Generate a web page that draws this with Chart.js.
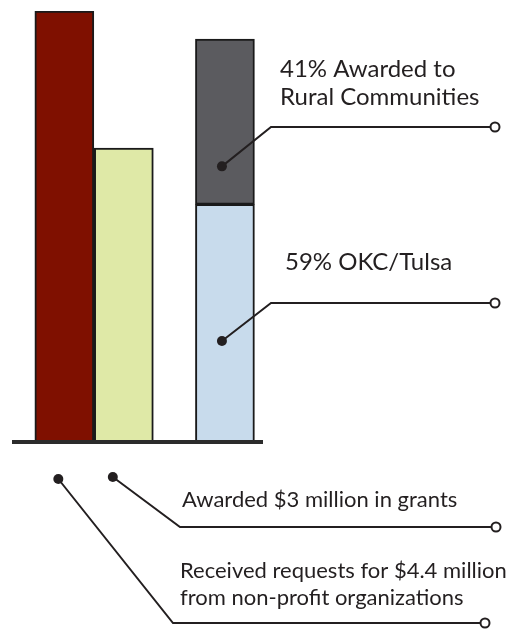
<!DOCTYPE html>
<html><head><meta charset="utf-8">
<script src="https://cdn.jsdelivr.net/npm/chart.js@4"></script>
<style>html,body{margin:0;padding:0;background:#fff}#wrap{width:521px;height:631px}</style>
</head><body><div id="wrap"><canvas id="c" width="521" height="631"></canvas></div>
<script>
// ---- data ----
const categories = ['Requests received', 'Grants awarded', 'Award split'];
const categoryPositions = [1, 2, 3.7];
const amountsMillions = [4.4, 3.0];          // $ million
const splitSeries = ['OKC/Tulsa', 'Rural Communities'];
const splitPercent = [59, 41];               // % of awarded
const labelRequests = ['Received requests for $4.4 million', 'from non-profit organizations'];
const labelAwarded = ['Awarded $3 million in grants'];
const labelOkc = ['59% OKC/Tulsa'];
const labelRural = ['41% Awarded to', 'Rural Communities'];

const INK = '#231f20';
const BORDER = '#1a1a1a';

const annotate = {
  id: 'annotate',
  afterDatasetsDraw(chart) {
    const ctx = chart.ctx, a = chart.chartArea;
    const bar = i => chart.getDatasetMeta(i).data[0];
    ctx.save();
    // baseline
    ctx.strokeStyle = '#2b2b2b'; ctx.lineWidth = 4;
    ctx.beginPath(); ctx.moveTo(a.left, a.bottom); ctx.lineTo(a.right, a.bottom); ctx.stroke();

    const rural = bar(3), okc = bar(2), req = bar(0), awd = bar(1);
    const specs = [
      {dot: [rural.x - 3, rural.y + (rural.base - rural.y) * 0.77], elbow: [271, 127], end: [495, 127],
       text: labelRural, tx: 280, ty: [77, 105], font: '24px Lato'},
      {dot: [okc.x - 3, okc.y + (okc.base - okc.y) * 0.575], elbow: [271, 303], end: [495, 303],
       text: labelOkc, tx: 285, ty: [270], font: '24px Lato'},
      {dot: [awd.x - 11, a.bottom + 35], elbow: [180, 527], end: [496, 527],
       text: labelAwarded, tx: 182, ty: [507], font: '22px Lato'},
      {dot: [req.x - 6, a.bottom + 37], elbow: [173, 623], end: [485, 623],
       text: labelRequests, tx: 180, ty: [578, 605], font: '22px Lato'},
    ];
    ctx.textBaseline = 'alphabetic';
    ctx.textAlign = 'left';
    for (const s of specs) {
      ctx.strokeStyle = INK; ctx.lineWidth = 2;
      ctx.beginPath();
      ctx.moveTo(s.dot[0], s.dot[1]);
      ctx.lineTo(s.elbow[0], s.elbow[1]);
      ctx.lineTo(s.end[0] - 5, s.end[1]);
      ctx.stroke();
      ctx.fillStyle = INK;
      ctx.beginPath(); ctx.arc(s.dot[0], s.dot[1], 5, 0, Math.PI * 2); ctx.fill();
      ctx.fillStyle = '#fff';
      ctx.beginPath(); ctx.arc(s.end[0], s.end[1], 4.5, 0, Math.PI * 2); ctx.fill(); ctx.stroke();
      ctx.fillStyle = INK;
      ctx.font = s.font;
      s.text.forEach((t, i) => ctx.fillText(t, s.tx, s.ty[i]));
    }
    ctx.restore();
  }
};

const common = {borderWidth: 2, borderColor: BORDER, borderSkipped: false, grouped: false};
new Chart(document.getElementById('c'), {
  type: 'bar',
  data: {
    datasets: [
      {...common, label: categories[0], data: [{x: categoryPositions[0], y: amountsMillions[0]}],
       backgroundColor: '#7f1000', barThickness: 59, yAxisID: 'y'},
      {...common, label: categories[1], data: [{x: categoryPositions[1], y: amountsMillions[1]}],
       backgroundColor: '#dfe9a7', barThickness: 59, yAxisID: 'y'},
      {...common, label: splitSeries[0], data: [{x: categoryPositions[2], y: splitPercent[0]}],
       backgroundColor: '#c8dbec', barThickness: 59, yAxisID: 'y2'},
      {...common, label: splitSeries[1], data: [{x: categoryPositions[2], y: splitPercent[1]}],
       backgroundColor: '#5b5b5f', barThickness: 59, yAxisID: 'y2'},
    ]
  },
  options: {
    responsive: false, animation: false, devicePixelRatio: 1,
    layout: {padding: {left: 12, right: 258, top: 11, bottom: 189}},
    plugins: {legend: {display: false}, tooltip: {enabled: false}},
    scales: {
      x: {type: 'linear', min: 0.12, max: 4.34, offset: false, display: false},
      y: {min: 0, max: 4.4, display: false},
      y2: {min: 0, max: 107, stacked: true, display: false}
    }
  },
  plugins: [annotate]
});
</script></body></html>
